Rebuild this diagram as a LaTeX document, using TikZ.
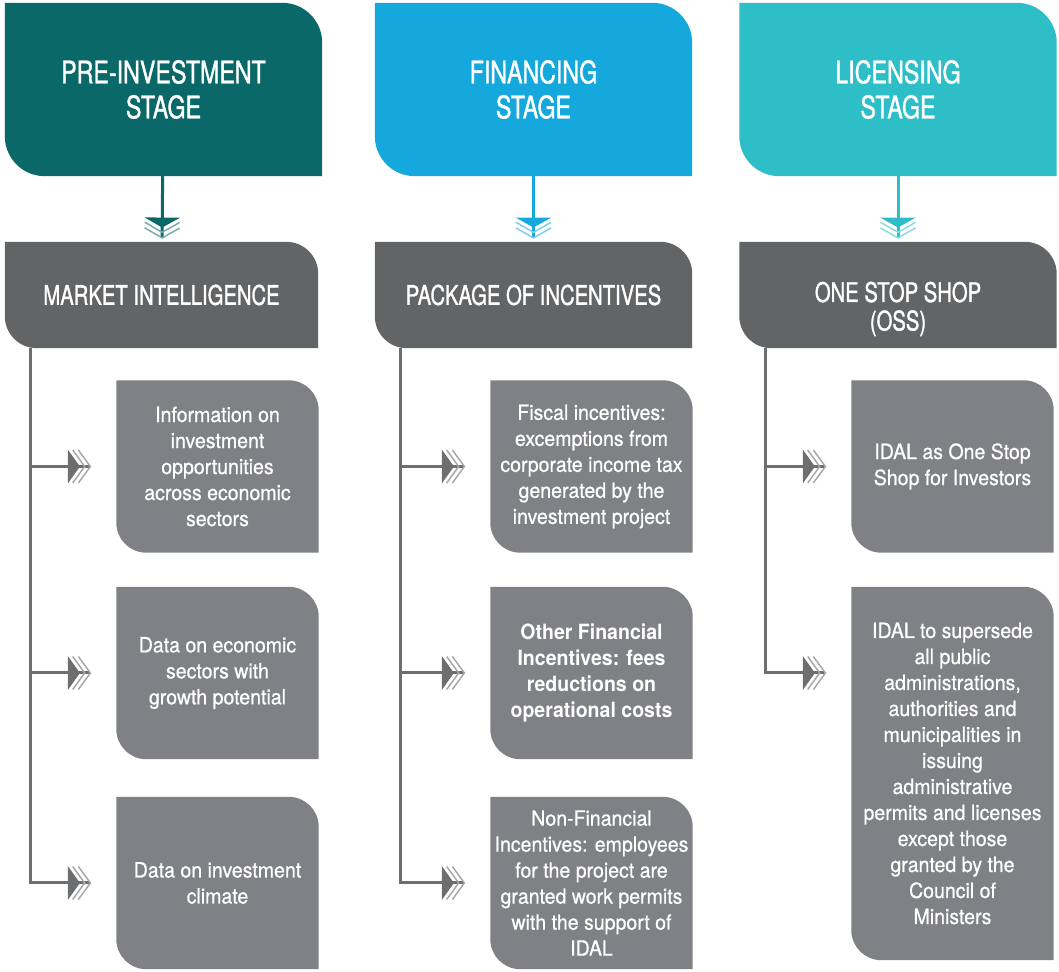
\documentclass[tikz,border=0pt]{standalone}
\usepackage{fontspec}
\setmainfont{TeX Gyre Heros}
\newfontfamily\capfont[FakeStretch=0.75, FakeBold=1.2]{TeX Gyre Heros}
\newfontfamily\leaffont[FakeStretch=0.93, UprightFeatures={FakeBold=0.7}]{TeX Gyre Heros}
\usetikzlibrary{arrows.meta}
\usetikzlibrary{backgrounds}
\usetikzlibrary{calc}
\definecolor{preinv}{HTML}{0B6868}
\definecolor{finance}{HTML}{15A8DC}
\definecolor{licence}{HTML}{2EBEC7}
\definecolor{headgray}{HTML}{636466}
\definecolor{leafgray}{HTML}{808184}
\definecolor{linegray}{HTML}{6D6E70}

\tikzset{
  stage/.style={minimum width=317pt, minimum height=173pt, inner sep=0pt,
    text=white, align=center, font=\capfont\fontsize{31}{35}\selectfont},
  header/.style={minimum width=317pt, minimum height=106pt, inner sep=0pt,
    text=white, align=center, font=\capfont\fontsize{27}{28.5}\selectfont},
  leaf/.style={minimum width=202pt, minimum height=172pt, inner sep=0pt,
    text=white, align=center, font=\leaffont\fontsize{21}{26}\selectfont},
  stagelink/.style={line width=3pt, draw=#1, shorten >=3pt,
    -{Triangle[width=35pt,length=10pt,sep=-6pt]
      Straight Barb[width=35pt,length=10pt,line width=1.5pt,color=#1!55,sep=-6pt]
      Straight Barb[width=35pt,length=10pt,line width=1.5pt,color=#1!55]}},
  branch/.style={line width=3pt, draw=linegray, shorten >=25pt,
    -{Triangle[width=33pt,length=12pt,sep=-8pt]
      Straight Barb[width=33pt,length=12pt,line width=1.5pt,color=linegray!60,sep=-8pt]
      Straight Barb[width=33pt,length=12pt,line width=1.5pt,color=linegray!60]}}
}

\begin{document}
\begin{tikzpicture}[x=1pt, y=1pt]
  \useasboundingbox (0,0) rectangle (1059,971);

  % stages
  \node[stage] (pre) at (163.5,881.5) {PRE-INVESTMENT\\STAGE};
  \node[stage] (fin) at (533.5,881.5) {FINANCING\\STAGE};
  \node[stage] (lic) at (898,881.5) {LICENSING\\STAGE};

  % headers
  \node[header, minimum width=313pt] (mkt) at (161.5,676) {MARKET INTELLIGENCE};
  \node[header] (pkg) at (533.5,676) {PACKAGE OF INCENTIVES};
  \node[header, label={[font=\capfont\fontsize{27}{28.5}\selectfont, text=white,
      align=center, yshift=-14pt]center:{ONE STOP SHOP\\(OSS)}}] (oss) at (898,676) {};

  % market intelligence
  \node[leaf] (info) at (217.5,504.5) {Information on\\investment\\opportunities\\across economic\\sectors};
  \node[leaf] (growth) at (217.5,298) {Data on economic\\sectors with\\growth potential};
  \node[leaf] (climate) at (217.5,88) {Data on investment\\climate};

  % package of incentives
  \node[leaf] (fiscal) at (591.5,504.5) {Fiscal incentives:\\excemptions from\\corporate income tax\\generated by the\\investment project};
  \node[leaf, font=\leaffont\bfseries\fontsize{21}{26}\selectfont] (other) at (591.5,298) {Other Financial\\Incentives: fees\\reductions on\\operational costs};
  \node[leaf] (nonfin) at (591.5,88) {Non-Financial\\Incentives: employees\\for the project are\\granted work permits\\with the support of\\IDAL};

  % one stop shop
  \node[leaf] (idal) at (952.5,504.5) {IDAL as One Stop\\Shop for Investors};
  \node[leaf, minimum height=373pt] (supersede) at (952.5,197.5) {IDAL to supersede\\all public\\administrations,\\authorities and\\municipalities in\\issuing\\administrative\\permits and licenses\\except those\\granted by the\\Council of\\Ministers};

  % box shapes, rounded top right and bottom left
  \begin{scope}[on background layer]
    \foreach \n/\c/\r in {pre/preinv/40, fin/finance/40, lic/licence/40,
        mkt/headgray/32, pkg/headgray/32, oss/headgray/32,
        info/leafgray/30, growth/leafgray/30, climate/leafgray/30,
        fiscal/leafgray/30, other/leafgray/30, nonfin/leafgray/30,
        idal/leafgray/30, supersede/leafgray/30}
      \fill[\c] (\n.north west) -- ($(\n.north east)+(-\r,0)$)
        arc[start angle=90, end angle=0, radius=\r] -- (\n.south east)
        -- ($(\n.south west)+(\r,0)$)
        arc[start angle=270, end angle=180, radius=\r] -- cycle;
  \end{scope}

  % stage to header
  \draw[stagelink=preinv] (pre) -- (mkt);
  \draw[stagelink=finance] (fin) -- (pkg);
  \draw[stagelink=licence] (lic) -- (oss);

  % header to items
  \foreach \h/\i in {mkt/info, mkt/growth, mkt/climate,
      pkg/fiscal, pkg/other, pkg/nonfin, oss/idal}
    \draw[branch] ([xshift=26pt]\h.south west) |- (\i);
  % the long box is reached at the height of the middle row
  \draw[branch] ([xshift=26pt]oss.south west) |- (supersede.west |- other);
\end{tikzpicture}
\end{document}
